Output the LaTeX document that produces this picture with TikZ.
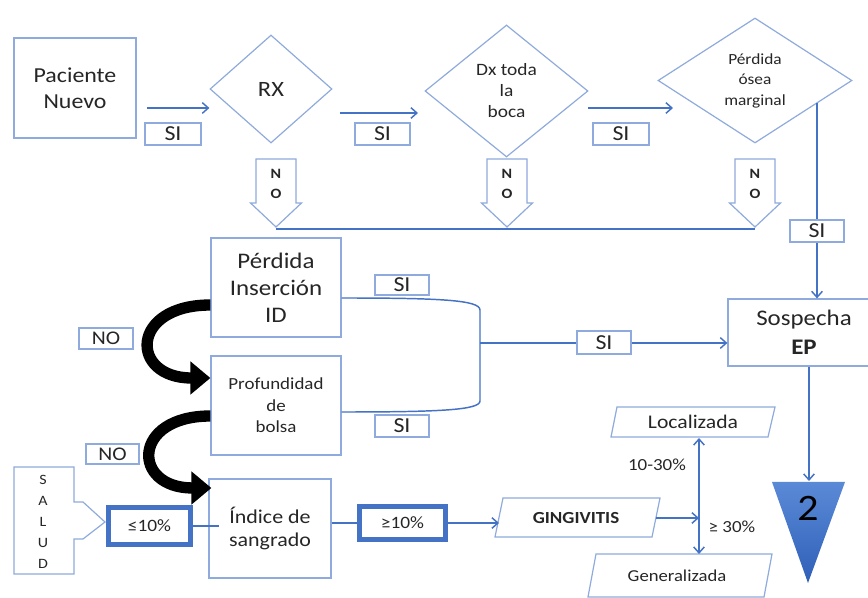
\documentclass[tikz,border=0pt]{standalone}
\usepackage{fontspec}
\setmainfont{Carlito}[FakeStretch=1.12]
\usetikzlibrary{arrows.meta,shapes.geometric,calc}

\definecolor{edgeblue}{HTML}{8FAADC}
\definecolor{flowblue}{HTML}{4472C4}
\definecolor{ink}{HTML}{262626}
\definecolor{tritop}{HTML}{5A8AD6}
\definecolor{tribot}{HTML}{2F5FB8}

\newcommand{\fsz}[2]{\fontsize{#1}{#2}\selectfont}

% hollow downward block arrow labelled "N O"; #1 name, #2 centre x
\newcommand{\noflag}[2]{%
  \draw[outline, fill=white] (#2-20,159) -- (#2+20,159) -- (#2+20,203) -- (#2+25.5,203)
     -- (#2,227) -- (#2-25.5,203) -- (#2-20,203) -- cycle;
  \node[font=\bfseries\fsz{10.7}{15}, align=center] (#1) at (#2,184) {N\\O};
  \coordinate (#1-tip) at (#2,227);
}

\begin{document}
\begin{tikzpicture}[x=0.75pt,y=-0.75pt,
  every node/.style={text=ink},
  size/.style 2 args={minimum width=#1*0.75pt, minimum height=#2*0.75pt},
  outline/.style={draw=edgeblue, line width=0.9pt},
  box/.style={outline, inner sep=0pt, align=center},
  tag/.style={outline, fill=white, inner sep=0pt, font=\fsz{16}{16}},
  flow/.style={draw=flowblue, line width=1.1pt, -{Straight Barb[length=4.5pt,width=8pt]}},
  link/.style={draw=flowblue, line width=1.1pt},
  thickbox/.style={draw=flowblue, line width=3.8pt, inner sep=0pt, font=\fsz{13}{13}},
  curl/.style={line width=8.5pt, -{Triangle[length=15pt,width=24pt]}},
]
\useasboundingbox (0,0) rectangle (868,598);

% ---- top row -------------------------------------------------------
\node[box, size={122}{100}, font=\fsz{16}{19.5}] (pac) at (75,88) {Paciente\\Nuevo};
\node[box, diamond, minimum width=91.5pt, minimum height=81pt, font=\fsz{16.4}{16}] (rx) at (271,89) {RX};
\node[box, diamond, minimum width=122.25pt, minimum height=99pt, font=\fsz{13}{15.75}] (dx) at (506.5,91) {Dx toda\\la\\boca};
\node[box, diamond, minimum width=145.5pt, minimum height=93.75pt, font=\fsz{11.6}{15.4}] (osea) at (755,80.5) {Pérdida\\ósea\\marginal};

\coordinate (a1s) at (147,108);
\coordinate (a2s) at (340,113);
\coordinate (a2e) at (418,113);
\coordinate (a3s) at (588,108);
\coordinate (a3e) at (673,108);
\draw[flow] (a1s) -- (a1s -| rx.west);
\draw[flow] (a2s) -- (a2e);
\draw[flow] (a3s) -- (a3e);

\node[tag, size={56}{22}] (si1) at (173,134) {SI};
\node[tag, size={55}{22}] (si2) at (382.5,134) {SI};
\node[tag, size={56}{22}] (si3) at (621,134) {SI};

% "NO" exits gathered on one line
\noflag{no1}{276}
\noflag{no2}{507}
\noflag{no3}{755}
\draw[draw=flowblue, line width=1.4pt] ([yshift=-1.5pt]no1-tip) -- ([yshift=-1.5pt]no3-tip);

% ---- suspicion of periodontitis ------------------------------------
\node[box, size={152}{67}, font=\fsz{16.7}{21.75}] (sos) at (804,332.5) {Sospecha\\\textbf{EP}};
\coordinate (oseaout) at (817,103);
\draw[flow] (oseaout) -- (oseaout |- sos.north);
\node[tag, size={54}{22}] (si4) at (817,231) {SI};

% ---- clinical findings ---------------------------------------------
\node[box, size={130}{99}, font=\fsz{16.7}{20.25}] (pi) at (276,287.5) {Pérdida\\Inserción\\ID};
\node[box, size={130}{99}, font=\fsz{12.7}{16}] (pb) at (276,405.5) {Profundidad\\de\\bolsa};
\node[box, size={122}{99}, font=\fsz{14.7}{17.25}] (isg) at (270,528.5) {Índice de\\sangrado};

% bracket joining both findings
\coordinate (brk) at (480,343);
\draw[link] ($(pi.east)+(0,10.5)$) .. controls (440,298) and (480,300) .. (480,310)
   -- (480,401) .. controls (480,410) and (440,412) .. ($(pb.east)+(0,6.5)$);
\draw[flow] (brk) -- (brk -| sos.west);
\node[tag, size={54}{20}] (si5) at (402,285) {SI};
\node[tag, size={54}{22}] (si6) at (402,426) {SI};
\node[tag, size={54}{23}] (si7) at (604,342.5) {SI};

% "NO" paths down the left side
\draw[curl] ($(pi.west)+(0,17.5)$) .. controls ($(pi.west)+(-81,17.5)$) and ($(pb.west)+(-81,-27.5)$) .. ($(pb.west)+(0,-27.5)$);
\draw[curl] ($(pb.west)+(0,10.5)$) .. controls ($(pb.west)+(-79,10.5)$) and ($(isg.west)+(-77,-40.5)$) .. ($(isg.west)+(3,-40.5)$);
\node[tag, size={54}{21}, font=\fsz{14.5}{14.5}] (nob1) at (106,338.5) {NO};
\node[tag, size={53}{20}, font=\fsz{14.5}{14.5}] (nob2) at (112.5,454) {NO};

% ---- bleeding index ------------------------------------------------
\draw[outline] (14,467) -- (74,467) -- (74,502) -- (83,502) -- (105,522) -- (83,539)
   -- (74,539) -- (74,574) -- (14,574) -- cycle;
\node[font=\fsz{10.7}{15.75}, align=center] (salud) at (43,521.5) {S\\A\\L\\U\\D};
\node[thickbox, size={82}{37}] (le) at (149.5,526) {≤10\%};
\node[thickbox, size={86}{33}] (ge) at (402.5,523) {≥10\%};
\draw[link] (le.east) -- ($(le.east -| isg.west)+(11,0)$);
\draw[link] (isg.east |- ge.west) -- (ge.west);

% gingivitis and its extent
\draw[outline] (503,498) -- (660,498) -- (652,537) -- (495,537) -- cycle;
\node[font=\bfseries\fsz{12.7}{12.7}] (gin) at (576,518) {GINGIVITIS};
\coordinate (ginw) at (499,520);
\coordinate (gine) at (656,518);
\draw[flow] (ge.east) -- (ge.east -| ginw);

\draw[outline] (617,407) -- (775,407) -- (768,437) -- (611,437) -- cycle;
\node[font=\fsz{14.5}{14.5}] (loc) at (693,422) {Localizada};
\draw[outline] (596,554) -- (772,554) -- (764,597) -- (588,597) -- cycle;
\node[font=\fsz{12.5}{12.5}] (gen) at (677,576) {Generalizada};
\coordinate (locs) at (699,438);
\coordinate (genn) at (699,554);
\draw[link, {Straight Barb[length=4.5pt,width=8pt]}-{Straight Barb[length=4.5pt,width=8pt]}] (locs) -- (genn);
\draw[flow] (gine) -- (gine -| locs);
\node[font=\fsz{12.7}{12.7}] (pct1) at (657,465) {10-30\%};
\node[font=\fsz{12.7}{12.7}] (pct2) at (732,527) {≥ 30\%};

% ---- stage marker --------------------------------------------------
\shade[top color=tritop, bottom color=tribot] (772,482) -- (845,482) -- (808,583) -- cycle;
\coordinate (tritopc) at (809,481);
\node[font=\fsz{28}{28}, text=black] (two) at (808,508) {2};
\draw[flow] ($(sos.south)+(5,0)$) -- (tritopc);
\end{tikzpicture}
\end{document}
